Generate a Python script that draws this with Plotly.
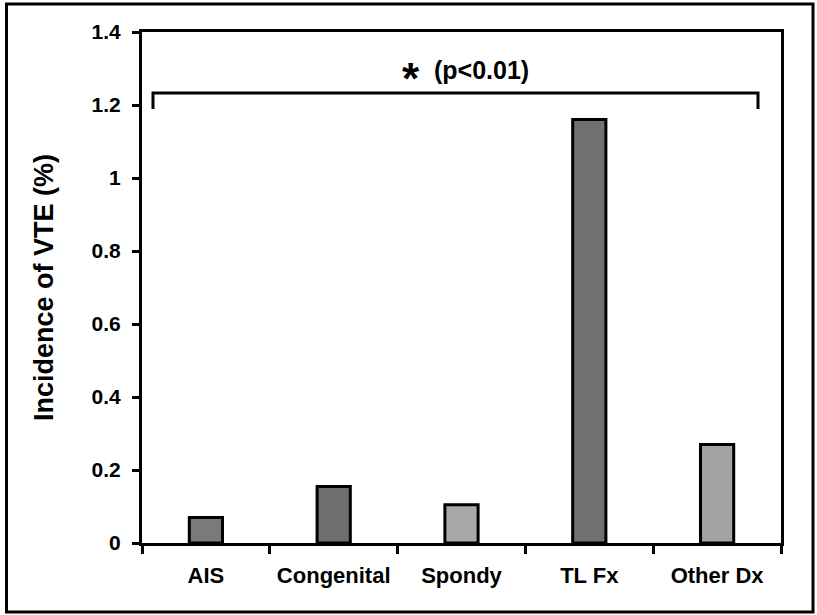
import plotly.graph_objects as go

categories = ["AIS", "Congenital", "Spondy", "TL Fx", "Other Dx"]
incidence = [0.07, 0.155, 0.105, 1.16, 0.27]
bar_colors = ["#7a7a7a", "#6e6e6e", "#a8a8a8", "#707070", "#a3a3a3"]
y_ticks = [0, 0.2, 0.4, 0.6, 0.8, 1.0, 1.2, 1.4]
y_ticklabels = ["0", "0.2", "0.4", "0.6", "0.8", "1", "1.2", "1.4"]
sig_label = "(p<0.01)"

FONT = "Liberation Sans, Arial, sans-serif"

fig = go.Figure()
fig.add_trace(go.Bar(
    x=categories, y=incidence,
    marker=dict(color=bar_colors, line=dict(color="black", width=3)),
    width=0.26,
))

W, H = 817, 615
L, R, T, B = 142, 36, 32, 72
pw, ph = W - L - R, H - T - B

def px_x(p):
    return (p - L) / pw

def px_y(p):
    return (H - B - p) / ph

# outer frame
fig.add_shape(type="rect", xref="paper", yref="paper",
              x0=px_x(6.5), x1=px_x(813), y0=px_y(612), y1=px_y(4),
              line=dict(color="black", width=3), layer="above")

# significance bracket
bx0, bx1, by_top, by_end = -0.414, 4.32, 1.233, 1.189
fig.add_shape(type="path", xref="x", yref="y",
              path=f"M {bx0} {by_end} L {bx0} {by_top} L {bx1} {by_top} L {bx1} {by_end}",
              line=dict(color="black", width=3))

fig.add_annotation(x=1.605, y=1.296, xref="x", yref="y", text="*", showarrow=False,
                   font=dict(family=FONT, size=44, color="black", weight="bold"),
                   xanchor="center", yanchor="middle", yshift=-9)
fig.add_annotation(x=1.769, y=1.296, xref="x", yref="y", text=sig_label, showarrow=False,
                   font=dict(family=FONT, size=25, color="black", weight="bold"),
                   xanchor="left", yanchor="middle")

fig.update_layout(
    width=W, height=H,
    margin=dict(l=L, r=R, t=T, b=B, autoexpand=False),
    paper_bgcolor="white", plot_bgcolor="white",
    showlegend=False,
    font=dict(family=FONT, color="black"),
)
fig.update_xaxes(
    type="category", range=[-0.5, 4.5],
    showline=True, linecolor="black", linewidth=3, mirror=True,
    ticks="outside", tickson="boundaries", ticklen=8, tickwidth=3, tickcolor="black",
    tickfont=dict(family=FONT, size=22, color="black", weight="bold"),
    tickangle=0, ticklabelstandoff=11,
    showgrid=False,
)
fig.update_yaxes(
    range=[0, 1.4], tickvals=y_ticks, ticktext=y_ticklabels,
    showline=True, linecolor="black", linewidth=3, mirror=True,
    ticks="outside", ticklen=7, tickwidth=3, tickcolor="black",
    tickfont=dict(family=FONT, size=21, color="black", weight="bold"),
    ticklabelstandoff=7,
    showgrid=False, zeroline=False,
    title=dict(text="Incidence of VTE (%)", standoff=31,
               font=dict(family=FONT, size=27, color="black", weight="bold")),
)

fig.write_html("out.html", post_script="document.body.style.margin='0';",
               config={"displayModeBar": False})
